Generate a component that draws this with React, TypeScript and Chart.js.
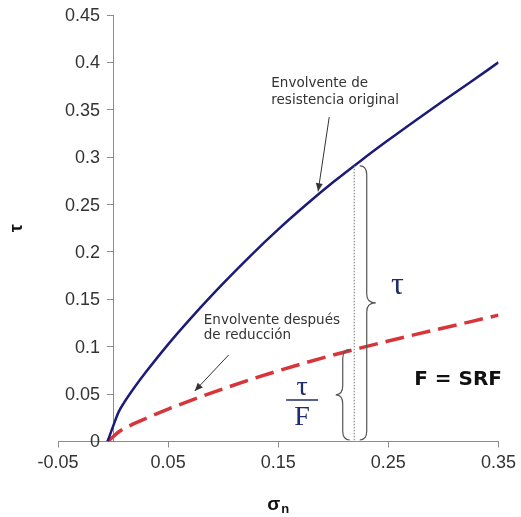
import React, { useEffect, useRef } from "react";
import { Chart, registerables } from "chart.js";

Chart.register(...registerables);

// Normal stress (σn) sample points
const sigmaN = [-0.005, 0, 0.005, 0.01, 0.02, 0.03, 0.05, 0.075, 0.1, 0.125, 0.15, 0.175, 0.2, 0.225, 0.25, 0.275, 0.3, 0.325, 0.35];
// Original strength envelope (τ)
const tauOriginal = [0, 0.016, 0.031, 0.041, 0.058, 0.0735, 0.1025, 0.1357, 0.1668, 0.1962, 0.2238, 0.2495, 0.2737, 0.2963, 0.318, 0.339, 0.3595, 0.3795, 0.4];
// Envelope after reduction (τ / F)
const tauReduced = [0, 0.005, 0.01, 0.0137, 0.0193, 0.0245, 0.0342, 0.0452, 0.0556, 0.0654, 0.0746, 0.0832, 0.0912, 0.0988, 0.106, 0.113, 0.1198, 0.1265, 0.1333];

const xTicks = [-0.05, 0.05, 0.15, 0.25, 0.35];
const yTicks = [0, 0.05, 0.1, 0.15, 0.2, 0.25, 0.3, 0.35, 0.4, 0.45];

const sigmaMarked = 0.219;

const BLUE = "#1c1c78";
const RED = "#d8353b";
const NAVY_TEXT = "#1f2d6b";
const TEXT = "#333333";
const AXIS = "#8c8c8c";
const TICK_FONT = "18px 'Liberation Sans', Arial, sans-serif";

function interp(xs: number[], ys: number[], x: number) {
  for (let i = 0; i < xs.length - 1; i++) {
    if (x >= xs[i] && x <= xs[i + 1]) {
      const t = (x - xs[i]) / (xs[i + 1] - xs[i]);
      return ys[i] + t * (ys[i + 1] - ys[i]);
    }
  }
  return ys[ys.length - 1];
}

function brace(ctx: CanvasRenderingContext2D, xHook: number, xStem: number, xTip: number, yTop: number, yBot: number) {
  const ym = (yTop + yBot) / 2;
  const r = Math.min(9, (yBot - yTop) / 5);
  ctx.beginPath();
  ctx.moveTo(xHook, yTop);
  ctx.quadraticCurveTo(xStem, yTop, xStem, yTop + r);
  ctx.lineTo(xStem, ym - r);
  ctx.quadraticCurveTo(xStem, ym, xTip, ym);
  ctx.quadraticCurveTo(xStem, ym, xStem, ym + r);
  ctx.lineTo(xStem, yBot - r);
  ctx.quadraticCurveTo(xStem, yBot, xHook, yBot);
  ctx.stroke();
}

function arrow(ctx: CanvasRenderingContext2D, x1: number, y1: number, x2: number, y2: number) {
  ctx.beginPath();
  ctx.moveTo(x1, y1);
  ctx.lineTo(x2, y2);
  ctx.stroke();
  const a = Math.atan2(y2 - y1, x2 - x1);
  const len = 8;
  const w = 3.5;
  ctx.beginPath();
  ctx.moveTo(x2, y2);
  ctx.lineTo(x2 - len * Math.cos(a) + w * Math.sin(a), y2 - len * Math.sin(a) - w * Math.cos(a));
  ctx.lineTo(x2 - len * Math.cos(a) - w * Math.sin(a), y2 - len * Math.sin(a) + w * Math.cos(a));
  ctx.closePath();
  ctx.fill();
}

const fmt = (v: number) => String(Math.round(v * 100) / 100);

const annotationPlugin = {
  id: "srfAnnotations",
  afterDraw(chart: any) {
    const ctx: CanvasRenderingContext2D = chart.ctx;
    const xs = chart.scales.x;
    const ys = chart.scales.y;
    const X = (v: number) => xs.getPixelForValue(v);
    const Y = (v: number) => ys.getPixelForValue(v);
    const area = chart.chartArea;
    ctx.save();

    // y tick labels (left of the axis that crosses at σn = 0)
    ctx.fillStyle = TEXT;
    ctx.font = TICK_FONT;
    ctx.textAlign = "right";
    ctx.textBaseline = "middle";
    yTicks.forEach((v) => {
      ctx.fillText(fmt(v), X(0) - 13, Y(v) + 1);
    });

    // axis titles
    ctx.fillStyle = "#111";
    ctx.textAlign = "center";
    ctx.textBaseline = "middle";
    ctx.save();
    ctx.translate(17, (area.top + area.bottom) / 2);
    ctx.rotate(-Math.PI / 2);
    ctx.font = "bold 18px 'Liberation Sans', Arial, sans-serif";
    ctx.fillText("τ", 0, 0);
    ctx.restore();

    ctx.font = "bold 19px 'Liberation Sans', Arial, sans-serif";
    const sw = ctx.measureText("σ").width;
    ctx.font = "bold 13px 'Liberation Sans', Arial, sans-serif";
    const nw = ctx.measureText("n").width;
    const cx = (area.left + area.right) / 2;
    const startX = cx - (sw + nw + 1) / 2;
    ctx.textAlign = "left";
    ctx.textBaseline = "alphabetic";
    ctx.font = "bold 19px 'Liberation Sans', Arial, sans-serif";
    ctx.fillText("σ", startX, 510);
    ctx.font = "bold 13px 'Liberation Sans', Arial, sans-serif";
    ctx.fillText("n", startX + sw + 1, 513);

    // dotted vertical line at marked σ
    const tauAt = interp(sigmaN, tauOriginal, sigmaMarked);
    const tauRedAt = interp(sigmaN, tauReduced, sigmaMarked);
    const xm = X(sigmaMarked);
    const yTopBig = Y(tauAt);
    const yTopSmall = Y(tauRedAt);
    const yBottom = Y(0) - 1.5;
    ctx.strokeStyle = "#777";
    ctx.lineWidth = 1;
    ctx.setLineDash([1.5, 1.5]);
    ctx.beginPath();
    ctx.moveTo(xm, yTopBig);
    ctx.lineTo(xm, Y(0));
    ctx.stroke();
    ctx.setLineDash([]);

    // braces
    ctx.strokeStyle = "#555";
    ctx.lineWidth = 1.2;
    brace(ctx, xm + 5.5, xm + 12.5, xm + 21.5, yTopBig, yBottom);
    brace(ctx, xm - 4.5, xm - 11.5, xm - 18.5, yTopSmall, yBottom);

    // τ and τ/F symbols
    ctx.fillStyle = NAVY_TEXT;
    ctx.textAlign = "center";
    ctx.textBaseline = "middle";
    ctx.font = "32px 'Liberation Serif', 'Times New Roman', serif";
    ctx.fillText("τ", X(0.2583), Y(0.165));
    ctx.font = "28px 'Liberation Serif', 'Times New Roman', serif";
    ctx.fillText("τ", X(0.1717), Y(0.0564));
    ctx.fillText("F", X(0.1717), Y(0.0248));
    ctx.strokeStyle = NAVY_TEXT;
    ctx.lineWidth = 1.5;
    ctx.beginPath();
    ctx.moveTo(X(0.1717) - 16, Y(0.0438));
    ctx.lineTo(X(0.1717) + 16, Y(0.0438));
    ctx.stroke();

    // F = SRF
    ctx.fillStyle = "#111";
    ctx.font = "bold 20px 'DejaVu Sans', Verdana, sans-serif";
    ctx.fillText("F = SRF", X(0.3133), Y(0.0649));

    // text annotations
    ctx.fillStyle = TEXT;
    ctx.textAlign = "left";
    ctx.textBaseline = "alphabetic";
    ctx.font = "13.5px 'DejaVu Sans', Verdana, sans-serif";
    ctx.fillText("Envolvente de", X(0.1437), Y(0.374));
    ctx.fillText("resistencia original", X(0.1437), Y(0.374) + 16.5);
    ctx.fillText("Envolvente después", X(0.0824), Y(0.1245));
    ctx.fillText("de reducción", X(0.0824), Y(0.1245) + 15.5);

    // arrows
    ctx.strokeStyle = "#333";
    ctx.fillStyle = "#333";
    ctx.lineWidth = 1;
    arrow(ctx, X(0.1963), Y(0.3423), X(0.1862), Y(0.264));
    arrow(ctx, X(0.1049), Y(0.0912), X(0.0742), Y(0.0533));

    ctx.restore();
  },
};

export default function App() {
  const canvasRef = useRef<HTMLCanvasElement | null>(null);

  useEffect(() => {
    const canvas = canvasRef.current;
    if (!canvas) return;
    const tickFont = { family: "'Liberation Sans', Arial, sans-serif", size: 18 };
    const chart = new Chart(canvas, {
      type: "scatter",
      data: {
        datasets: [
          {
            label: "Envolvente de resistencia original",
            data: sigmaN.map((x, i) => ({ x, y: tauOriginal[i] })),
            showLine: true,
            borderColor: BLUE,
            borderWidth: 2.5,
            pointRadius: 0,
            cubicInterpolationMode: "monotone",
          },
          {
            label: "Envolvente después de reducción",
            data: sigmaN.map((x, i) => ({ x, y: tauReduced[i] })),
            showLine: true,
            borderColor: RED,
            borderWidth: 3.5,
            borderDash: [19, 8],
            pointRadius: 0,
            cubicInterpolationMode: "monotone",
          },
        ],
      },
      options: {
        animation: false,
        responsive: false,
        devicePixelRatio: 1,
        layout: { padding: { left: 58, right: 19, top: 15, bottom: 35.5 } },
        plugins: { legend: { display: false }, tooltip: { enabled: false } },
        scales: {
          x: {
            type: "linear",
            min: -0.05,
            max: 0.35,
            afterBuildTicks: (s: any) => {
              s.ticks = xTicks.map((v) => ({ value: v }));
            },
            afterFit: (s: any) => {
              s.height = 40;
            },
            grid: { drawOnChartArea: false, drawTicks: true, tickLength: 6, color: AXIS },
            border: { color: AXIS, width: 1 },
            ticks: { font: tickFont, color: TEXT, padding: 5, maxRotation: 0, callback: (v: any) => fmt(Number(v)) },
          },
          y: {
            type: "linear",
            position: { x: 0 } as any,
            min: 0,
            max: 0.45,
            afterBuildTicks: (s: any) => {
              s.ticks = yTicks.map((v) => ({ value: v }));
            },
            afterFit: (s: any) => {
              s.width = 0;
            },
            grid: { drawOnChartArea: false, drawTicks: true, tickLength: 6, color: AXIS },
            border: { color: AXIS, width: 1 },
            ticks: { display: false },
          },
        },
      },
      plugins: [annotationPlugin],
    } as any);
    return () => chart.destroy();
  }, []);

  return (
    <div style={{ position: "absolute", left: 0, top: 0, width: 521, height: 517, background: "#fff" }}>
      <canvas ref={canvasRef} width={521} height={517} />
    </div>
  );
}
